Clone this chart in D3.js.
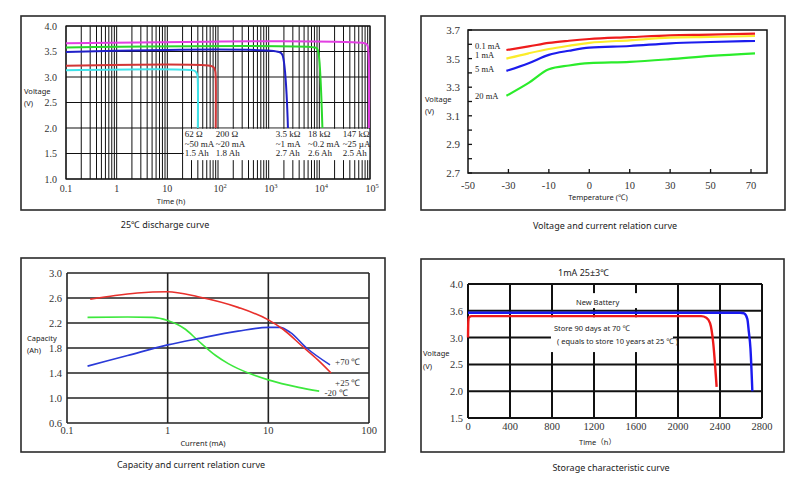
<!DOCTYPE html>
<html><head><meta charset="utf-8">
<script src="https://cdn.jsdelivr.net/npm/d3@7"></script>
<style>body{margin:0;background:#fff}svg{display:block}</style>
</head><body>
<svg id="c" width="810" height="481"></svg>
<script>
// ---------------- DATA ----------------
// Panel 1: 25°C discharge curve
const dischargeYTicks = [1.0, 1.5, 2.0, 2.5, 3.0, 3.5, 4.0];
const dischargeXTicks = [0.1, 1, 10, 100, 1000, 10000, 100000];
const dischargeXLabels = [["0.1",""],["1",""],["10",""],["10","2"],["10","3"],["10","4"],["10","5"]];
const dischargeLoads = ["62 Ω", "200 Ω", "3.5 kΩ", "18 kΩ", "147 kΩ"];
const dischargeCurrents = ["~50 mA", "~20 mA", "~1 mA", "~0.2 mA", "~25 µA"];
const dischargeCapacities = ["1.5 Ah", "1.8 Ah", "2.7 Ah", "2.6 Ah", "2.5 Ah"];
const dischargeLabelTimes = [22, 90, 1380, 6000, 29000];
const discharge62 = [[0.1,3.13],[32,3.13],[36,3.11],[39,3.05],[40,2.9],[40,2.0]];
const discharge200 = [[0.1,3.22],[70,3.22],[82,3.19],[88,3.12],[90,3.0],[90,2.0]];
const discharge3k5 = [[0.1,3.49],[1600,3.49],[1850,3.44],[2400,2.0]];
const discharge18k = [[0.1,3.58],[8000,3.58],[9000,3.56],[9700,3.45],[11500,2.0]];
const discharge147k = [[0.1,3.66],[78000,3.66],[88000,3.63],[93000,3.5],[95000,2.0]];

// Panel 2: Voltage and current relation curve
const tempTicks = [-50, -30, -10, 0, 10, 30, 50, 70];
const tempVoltLabels = [2.7, 2.9, 3.1, 3.3, 3.5, 3.7];
const tempSeriesNames = ["0.1 mA", "1 mA", "5 mA", "20 mA"];
const tempX = [-31, -20, -10, -5, 0, 10, 30, 50, 72];
const volt01mA = [3.56, 3.585, 3.61, 3.625, 3.637, 3.65, 3.663, 3.667, 3.675];
const volt1mA  = [3.50, 3.537, 3.567, 3.59, 3.61, 3.628, 3.646, 3.651, 3.658];
const volt5mA  = [3.414, 3.468, 3.526, 3.555, 3.577, 3.588, 3.607, 3.616, 3.623];
const volt20mA = [3.24, 3.33, 3.426, 3.452, 3.468, 3.477, 3.496, 3.519, 3.537];
const tempLabelVolts = [3.59, 3.525, 3.43, 3.235];

// Panel 3: Capacity and current relation curve
const capYTicks = [0.6, 1.0, 1.4, 1.8, 2.2, 2.6, 3.0];
const capXTicks = [0.1, 1, 10, 100];
const cap25 = [[0.17,2.58],[0.3,2.64],[0.5,2.68],[1,2.70],[2,2.62],[5,2.45],[10,2.25],[14,2.10],[22,1.82],[31,1.61],[42,1.40]];
const cap70 = [[0.16,1.51],[0.4,1.68],[1,1.85],[2,1.95],[5,2.07],[10,2.13],[13,2.13],[16.5,2.05],[24,1.80],[41,1.53]];
const capM20 = [[0.16,2.29],[0.4,2.295],[0.7,2.29],[1,2.24],[1.5,2.10],[2,1.92],[3,1.68],[4,1.55],[5,1.47],[10,1.29],[20,1.17],[32,1.11]];
const capLabels = [["+70 ℃", 42, 1.58], ["+25 ℃", 42, 1.24], ["-20 ℃", 33, 1.08]];

// Panel 4: Storage characteristic curve
const storeYTicks = [1.5, 2.0, 2.5, 3.0, 3.5, 4.0];
const storeYLabels = ["1.5", "2.0", "2.5", "3.0", "3.6", "4.0"];
const storeXTicks = [0, 400, 800, 1200, 1600, 2000, 2400, 2800];
const storeNew = [[0,3.465],[2590,3.465],[2630,3.45],[2660,3.35],[2675,3.1],[2690,2.8],[2708,2.0]];
const storeAged = [[0,3.0],[3,3.3],[10,3.38],[35,3.40],[2220,3.40],[2270,3.37],[2305,3.27],[2336,2.89],[2352,2.52],[2368,2.08]];

// ---------------- DRAWING ----------------
const SERIF = '"Liberation Serif","Times New Roman",serif';
const SANS = '"Noto Sans","Noto Sans CJK SC",sans-serif';
const svg = d3.select("#c");

function frame(x, y, w, h) {
  svg.append("rect").attr("x", x).attr("y", y).attr("width", w).attr("height", h)
    .attr("fill", "none").attr("stroke", "#2b2b2b").attr("stroke-width", 1.6);
}
function txt(g, x, y, s, size, family, anchor, fill) {
  return g.append("text").attr("x", x).attr("y", y).attr("font-size", size)
    .attr("font-family", family).attr("text-anchor", anchor || "start")
    .attr("fill", fill || "#222").text(s);
}

// ===== Panel 1 =====
{
  const g = svg.append("g");
  frame(21, 16, 364, 194);
  const x = d3.scaleLog().domain([0.1, 1e5]).range([66, 370]);
  const y = d3.scaleLinear().domain([1, 4]).range([179, 26]);
  g.selectAll(".vg").data(x.ticks()).join("line")
    .attr("x1", d => x(d)).attr("x2", d => x(d)).attr("y1", y(4)).attr("y2", y(1))
    .attr("stroke", "#111").attr("stroke-width", 1);
  g.selectAll(".hg").data(dischargeYTicks).join("line")
    .attr("x1", x(0.1)).attr("x2", x(1e5)).attr("y1", d => y(d)).attr("y2", d => y(d))
    .attr("stroke", "#111").attr("stroke-width", 1.2);
  g.append("rect").attr("x", x(20) + 1).attr("y", y(2.0) + 0.8)
    .attr("width", x(1e5) - x(20) - 1).attr("height", y(1.37) - y(2.0) - 0.8).attr("fill", "#fff");
  g.append("rect").attr("x", x(0.1)).attr("y", y(4)).attr("width", x(1e5) - x(0.1)).attr("height", y(1) - y(4))
    .attr("fill", "none").attr("stroke", "#111").attr("stroke-width", 1.2);
  const line = d3.line().x(d => x(d[0])).y(d => y(d[1])).curve(d3.curveCatmullRom.alpha(0.5));
  [[discharge147k, "#e23fe2"], [discharge18k, "#2ad82a"], [discharge3k5, "#2020c8"],
   [discharge200, "#d23636"], [discharge62, "#3fe3ea"]].forEach(([d, c]) => {
    g.append("path").attr("d", line(d)).attr("fill", "none").attr("stroke", c).attr("stroke-width", 2);
  });
  g.selectAll(".yl").data(dischargeYTicks).join("text")
    .attr("x", 57).attr("y", d => y(d) + 3.5).attr("text-anchor", "end")
    .attr("font-family", SERIF).attr("font-size", 10).attr("fill", "#333").text(d => d.toFixed(1));
  dischargeXTicks.forEach((v, i) => {
    const [b, e] = dischargeXLabels[i];
    const t = g.append("text").attr("y", 192).attr("font-family", SERIF).attr("font-size", 10).attr("fill", "#333");
    if (e) {
      t.attr("x", x(v) - 4.5).attr("text-anchor", "start");
      t.append("tspan").text(b);
      t.append("tspan").attr("dy", -4).attr("font-size", 6.5).text(e);
    } else {
      t.attr("x", x(v)).attr("text-anchor", "middle").text(b);
    }
  });
  dischargeLabelTimes.forEach((tv, i) => {
    const xx = x(tv);
    txt(g, xx, 137, dischargeLoads[i], 9, SERIF, "start", "#222");
    txt(g, xx, 146.5, dischargeCurrents[i], 9, SERIF, "start", "#222");
    txt(g, xx, 156, dischargeCapacities[i], 9, SERIF, "start", "#222");
  });
  txt(g, 24, 93.5, "Voltage", 7.5, SANS);
  txt(g, 24, 106, "(V)", 7.5, SANS);
  txt(g, 171, 204, "Time (h)", 7.5, SANS, "middle");
  txt(g, 165, 228, "25℃ discharge curve", 9, SANS, "middle", "#222");
}

// ===== Panel 2 =====
{
  const g = svg.append("g");
  frame(421, 16, 364, 194);
  const step = (751 - 468) / 7;
  const x = d3.scaleLinear().domain(tempTicks.concat([78])).range(tempTicks.map((d, i) => 468 + i * step).concat([767]));
  const y = d3.scaleLinear().domain([2.7, 3.7]).range([173, 30]);
  g.append("rect").attr("x", 468).attr("y", y(3.7)).attr("width", 767 - 468).attr("height", y(2.7) - y(3.7))
    .attr("fill", "none").attr("stroke", "#111").attr("stroke-width", 1.5);
  g.selectAll(".yt").data(y.ticks(10)).join("line")
    .attr("x1", 468).attr("x2", 472).attr("y1", d => y(d)).attr("y2", d => y(d)).attr("stroke", "#111").attr("stroke-width", 1.3);
  g.selectAll(".xt").data(tempTicks.slice(1)).join("line")
    .attr("x1", d => x(d)).attr("x2", d => x(d)).attr("y1", 173).attr("y2", 169).attr("stroke", "#111").attr("stroke-width", 1.3);
  g.selectAll(".yl").data(tempVoltLabels).join("text")
    .attr("x", 460).attr("y", d => y(d) + 4).attr("text-anchor", "end")
    .attr("font-family", SERIF).attr("font-size", 11).attr("fill", "#333").text(d => d.toFixed(1));
  g.selectAll(".xl").data(tempTicks).join("text")
    .attr("x", d => x(d)).attr("y", 189).attr("text-anchor", "middle")
    .attr("font-family", SERIF).attr("font-size", 10.5).attr("fill", "#333").text(d => d);
  const line = d3.line().x(d => x(d[0])).y(d => y(d[1])).curve(d3.curveMonotoneX);
  [[volt01mA, "#ee1c1c"], [volt1mA, "#fbec2a"], [volt5mA, "#1c1ced"], [volt20mA, "#2bec2b"]].forEach(([v, c]) => {
    g.append("path").attr("d", line(tempX.map((t, i) => [t, v[i]]))).attr("fill", "none")
      .attr("stroke", c).attr("stroke-width", 2.2);
  });
  tempSeriesNames.forEach((n, i) => {
    txt(g, 475, y(tempLabelVolts[i]) + 3, n, 8.5, SERIF, "start", "#222");
  });
  txt(g, 425, 101.5, "Voltage", 7.5, SANS);
  txt(g, 425, 113.5, "(V)", 7.5, SANS);
  txt(g, 598, 199.5, "Temperature (℃)", 7.5, SANS, "middle");
  txt(g, 605, 229, "Voltage and current relation curve", 9, SANS, "middle", "#222");
}

// ===== Panel 3 =====
{
  const g = svg.append("g");
  frame(21, 258, 364, 194);
  const x = d3.scaleLog().domain([0.1, 100]).range([67, 369]);
  const y = d3.scaleLinear().domain([0.6, 3.0]).range([423, 273]);
  g.selectAll(".hg").data(capYTicks).join("line")
    .attr("x1", 67).attr("x2", 369).attr("y1", d => y(d)).attr("y2", d => y(d)).attr("stroke", "#222").attr("stroke-width", 1.4);
  g.selectAll(".vg").data(capXTicks).join("line")
    .attr("x1", d => x(d)).attr("x2", d => x(d)).attr("y1", 273).attr("y2", 423).attr("stroke", "#222").attr("stroke-width", 1.6);
  g.selectAll(".yl").data(capYTicks).join("text")
    .attr("x", 62).attr("y", d => y(d) + 3.8).attr("text-anchor", "end")
    .attr("font-family", SERIF).attr("font-size", 10.5).attr("fill", "#333").text(d => d.toFixed(1));
  g.selectAll(".xl").data(capXTicks).join("text")
    .attr("x", d => x(d)).attr("y", 434).attr("text-anchor", "middle")
    .attr("font-family", SERIF).attr("font-size", 10.5).attr("fill", "#333").text(d => d);
  const line = d3.line().x(d => x(d[0])).y(d => y(d[1])).curve(d3.curveMonotoneX);
  [[capM20, "#3de83d"], [cap70, "#2a3ad8"], [cap25, "#e8302c"]].forEach(([d, c]) => {
    g.append("path").attr("d", line(d)).attr("fill", "none").attr("stroke", c).attr("stroke-width", 1.6);
  });
  capLabels.forEach(([s, cx, cy]) => txt(g, x(cx) + 4, y(cy) + 3, s, 9, SERIF, "start", "#333"));
  txt(g, 27, 340.5, "Capacity", 7.5, SANS);
  txt(g, 27, 353, "(Ah)", 7.5, SANS);
  txt(g, 203, 445.5, "Current (mA)", 7.5, SANS, "middle");
  txt(g, 191, 468, "Capacity and current relation curve", 9, SANS, "middle", "#222");
}

// ===== Panel 4 =====
{
  const g = svg.append("g");
  frame(421, 259, 363, 193);
  const x = d3.scaleLinear().domain([0, 2800]).range([468, 762]);
  const y = d3.scaleLinear().domain([1.5, 4.0]).range([418, 284]);
  g.selectAll(".vg").data(storeXTicks).join("line")
    .attr("x1", d => x(d)).attr("x2", d => x(d)).attr("y1", y(4)).attr("y2", y(1.5)).attr("stroke", "#111").attr("stroke-width", 2);
  g.selectAll(".hg").data(storeYTicks).join("line")
    .attr("x1", x(0)).attr("x2", x(2800)).attr("y1", d => y(d)).attr("y2", d => y(d)).attr("stroke", "#111").attr("stroke-width", 2);
  g.append("rect").attr("x", x(876)).attr("y", y(3.83)).attr("width", x(1829) - x(876)).attr("height", y(3.55) - y(3.83)).attr("fill", "#fff");
  g.append("rect").attr("x", x(790)).attr("y", y(3.38)).attr("width", x(1952) - x(790)).attr("height", y(2.73) - y(3.38)).attr("fill", "#fff");
  const line = d3.line().x(d => x(d[0])).y(d => y(d[1])).curve(d3.curveMonotoneX);
  g.append("path").attr("d", line(storeNew)).attr("fill", "none").attr("stroke", "#1a1af0").attr("stroke-width", 2.4);
  g.append("path").attr("d", line(storeAged)).attr("fill", "none").attr("stroke", "#ee1a1a").attr("stroke-width", 2.4);
  g.selectAll(".yl").data(storeYTicks).join("text")
    .attr("x", 463).attr("y", (d) => y(d) + 4).attr("text-anchor", "end")
    .attr("font-family", SERIF).attr("font-size", 10.5).attr("fill", "#333").text((d, i) => storeYLabels[i]);
  g.selectAll(".xl").data(storeXTicks).join("text")
    .attr("x", d => x(d)).attr("y", 430).attr("text-anchor", "middle")
    .attr("font-family", SERIF).attr("font-size", 10.5).attr("fill", "#333").text(d => d);
  txt(g, 558, 276, "1mA   25±3℃", 9, SANS, "start", "#222");
  txt(g, 576, 304.5, "New Battery", 7.5, SANS, "start", "#222");
  txt(g, 554, 331, "Store 90 days at  70 ℃", 7.5, SANS, "start", "#222");
  txt(g, 557, 343.5, "( equals to store 10 years at 25 ℃ )", 7.5, SANS, "start", "#222");
  txt(g, 423, 356, "Voltage", 7.5, SANS);
  txt(g, 423, 368.5, "(V)", 7.5, SANS);
  txt(g, 597.5, 444.5, "Time（h）", 7.5, SANS, "middle");
  txt(g, 611, 471, "Storage characteristic curve", 9, SANS, "middle", "#222");
}
</script>
</body></html>
